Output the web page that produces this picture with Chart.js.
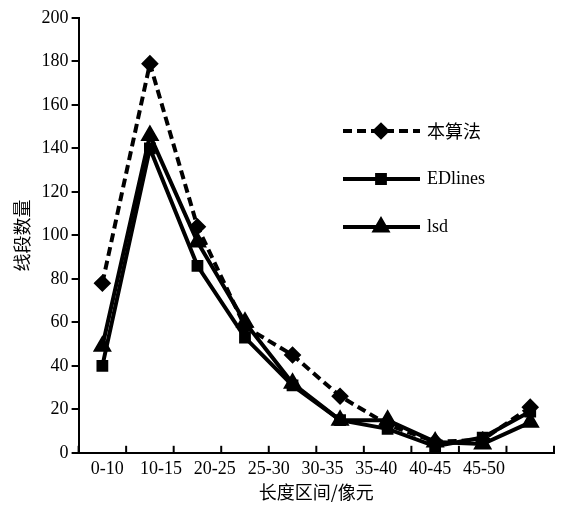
<!DOCTYPE html>
<html>
<head>
<meta charset="utf-8">
<script src="https://cdn.jsdelivr.net/npm/chart.js@4"></script>
<style>
  html, body { margin: 0; padding: 0; background: #fff; }
  #wrap { width: 565px; height: 509px; }
</style>
</head>
<body>
<div id="wrap"><canvas id="lenChart"></canvas></div>
<script>
// 10 data slots, only 8 tick labels in the original figure
const slots = ['1', '2', '3', '4', '5', '6', '7', '8', '9', '10'];
const tickLabels = ['0-10', '10-15', '20-25', '25-30', '30-35', '35-40', '40-45', '45-50'];
const ours = [78, 179, 104, 58, 45, 26, 13, 5, 6, 21];
const edlines = [40, 140, 86, 53, 31, 15, 11, 3, 7, 19];
const lsd = [49, 146, 97, 60, 32, 15, 15, 5, 4, 14];

const serif = '"Liberation Serif", "Times New Roman", serif';
const cjk = '"Noto Sans CJK SC", sans-serif';

// inward tick marks on the x axis + legend inside the plot
const extras = {
  id: 'extras',
  afterDraw(chart) {
    const ctx = chart.ctx;
    const x = chart.scales.x;
    const y0 = chart.chartArea.bottom;
    ctx.save();
    ctx.strokeStyle = '#000';
    ctx.lineWidth = 2;
    for (let i = 0; i <= slots.length; i++) {
      const px = x.getPixelForValue(i - 0.5);
      ctx.beginPath();
      ctx.moveTo(px, y0);
      ctx.lineTo(px, y0 - 7);
      ctx.stroke();
    }
    // legend
    const rows = [
      { text: '本算法', ds: 0, y: 131 },
      { text: 'EDlines', ds: 1, y: 179 },
      { text: 'lsd', ds: 2, y: 227 }
    ];
    rows.forEach(r => {
      const d = chart.data.datasets[r.ds];
      ctx.beginPath();
      ctx.setLineDash(d.borderDash || []);
      ctx.lineWidth = 4;
      ctx.moveTo(343, r.y);
      ctx.lineTo(420, r.y);
      ctx.stroke();
      ctx.setLineDash([]);
      Chart.helpers.drawPoint(ctx, {
        pointStyle: d.pointStyle, radius: d.pointRadius, rotation: 0, borderWidth: 1
      }, 381, r.y);
      ctx.fillStyle = '#000';
      ctx.fill();
      ctx.font = '18px ' + (r.ds === 0 ? cjk : serif);
      ctx.textBaseline = 'middle';
      ctx.fillText(r.text, 427, r.y);
    });
    ctx.restore();
  }
};

new Chart(document.getElementById('lenChart'), {
  type: 'line',
  data: {
    labels: slots,
    datasets: [
      { label: '本算法', data: ours, borderColor: '#000', backgroundColor: '#000',
        borderWidth: 4, borderDash: [9, 5], pointStyle: 'rectRot', pointRadius: 6 },
      { label: 'EDlines', data: edlines, borderColor: '#000', backgroundColor: '#000',
        borderWidth: 4, pointStyle: 'rect', pointRadius: 5.5 },
      { label: 'lsd', data: lsd, borderColor: '#000', backgroundColor: '#000',
        borderWidth: 4, pointStyle: 'triangle', pointRadius: 7 }
    ]
  },
  options: {
    responsive: true,
    maintainAspectRatio: false,
    animation: false,
    layout: { padding: { top: 18, right: 4, left: 11, bottom: 6 } },
    plugins: {
      legend: { display: false },
      tooltip: { enabled: false }
    },
    scales: {
      x: {
        type: 'category',
        offset: true,
        grid: { display: false },
        border: { display: true, color: '#000', width: 2 },
        ticks: { display: false, padding: 0 },
        afterFit: (axis) => { axis.height = 1; }
      },
      xl: {
        type: 'linear',
        position: 'bottom',
        min: -0.53,
        max: 8.30,
        afterBuildTicks: (axis) => {
          axis.ticks = tickLabels.map((t, i) => ({ value: i }));
        },
        grid: { display: false },
        border: { display: false },
        ticks: {
          color: '#000',
          font: { family: serif, size: 18 },
          padding: -3,
          maxRotation: 0,
          autoSkip: false,
          callback: (v) => tickLabels[v]
        },
        title: {
          display: true,
          text: '长度区间/像元',
          color: '#000',
          font: { family: cjk, size: 18 },
          padding: { top: 4, bottom: 0 }
        }
      },
      y: {
        min: 0,
        max: 200,
        ticks: {
          stepSize: 20,
          color: '#000',
          font: { family: serif, size: 18 },
          padding: 3
        },
        grid: { drawOnChartArea: false, drawTicks: true, tickLength: 7, color: '#000', lineWidth: 2 },
        border: { display: true, color: '#000', width: 2 },
        title: {
          display: true,
          text: '线段数量',
          color: '#000',
          font: { family: cjk, size: 18 },
          padding: { top: 0, bottom: 6 }
        }
      }
    }
  },
  plugins: [extras]
});
</script>
</body>
</html>
